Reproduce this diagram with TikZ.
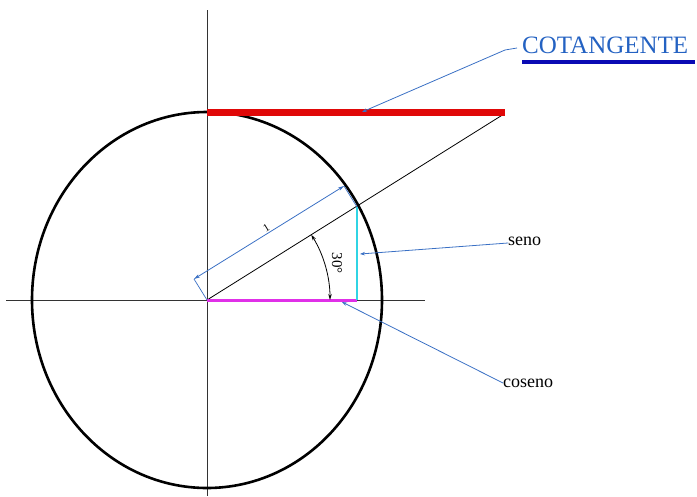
\documentclass[tikz,border=0pt]{standalone}
\usepackage{fontspec}
\setmainfont{Liberation Serif}
\usetikzlibrary{arrows.meta}
\definecolor{leader}{HTML}{3A70C4}
\definecolor{cotxt}{HTML}{2462C2}
\definecolor{undl}{HTML}{0A0AB4}
\definecolor{redl}{HTML}{E00808}
\definecolor{magl}{HTML}{E030E8}
\definecolor{cyanl}{HTML}{30D4E4}
\tikzset{
  axis/.style={draw=black!80, line width=0.9pt},
  leaderline/.style={draw=leader, line width=0.8pt, -{Stealth[length=5pt,width=3.5pt]}},
  lbl/.style={inner sep=0pt, anchor=base west, font=\fontsize{18}{20}\selectfont},
}
\begin{document}
\begin{tikzpicture}[x=1pt,y=-1pt]
\useasboundingbox (0,0) rectangle (697,496);
% axes
\coordinate (O) at (207,300);
\draw[axis] (207,10) -- (207,496);
\draw[axis] (6,300) -- (425,300);
% circle
\draw[line width=2.6pt] (O) ellipse [x radius=175, y radius=188];
% radius line
\coordinate (T) at (504,114);
\draw[black, line width=0.8pt] (O) -- (T);
% cotangent
\coordinate (C0) at (207,112);
\coordinate (C1) at (505,112);
\draw[redl, line width=7pt] (C0) -- (C1);
% cosine & sine
\coordinate (P) at (357,207);
\coordinate (Q) at (357,300);
\draw[magl, line width=3pt] (O) -- (Q);
\draw[cyanl, line width=2.6pt] (Q) -- (P);
% dimension "1"
\coordinate (D0) at (194,279);
\coordinate (D1) at (344,186);
\draw[leader, line width=0.7pt] (O) -- (D0);
\draw[leader, line width=0.7pt] (P) -- (D1);
\draw[leader, line width=0.8pt, {Stealth[length=6pt,width=3.5pt]}-{Stealth[length=6pt,width=3.5pt]}] (D0) -- node[black, sloped, above, inner sep=1pt, font=\fontsize{11}{12}\selectfont] (one) {1} (D1);
% angle arc
\draw[black, line width=0.8pt, {Stealth[length=6pt,width=3.5pt]}-{Stealth[length=6pt,width=3.5pt]}] (O) ++(-32.1:123) arc[start angle=-32.1, end angle=0, radius=123];
\node[rotate=-90, font=\fontsize{15}{16}\selectfont, inner sep=0pt] (ang) at (337,263) {30°};
% labels
\node[lbl, text=cotxt, font=\fontsize{25}{27}\selectfont] (cot) at (522,53) {COTANGENTE};
\draw[undl, line width=4.5pt] (522,62) -- (695,62);
\node[lbl] (sen) at (508,245) {seno};
\node[lbl] (cos) at (503,387) {coseno};
% leaders
\coordinate (cotL) at (517,48);
\draw[leaderline] (cotL) -- (505,50) -- (362,112);
\coordinate (senL) at (508,243);
\draw[leaderline] (senL) -- (360,254);
\coordinate (cosL) at (503,383);
\draw[leaderline] (cosL) -- (342,302);
\end{tikzpicture}
\end{document}
